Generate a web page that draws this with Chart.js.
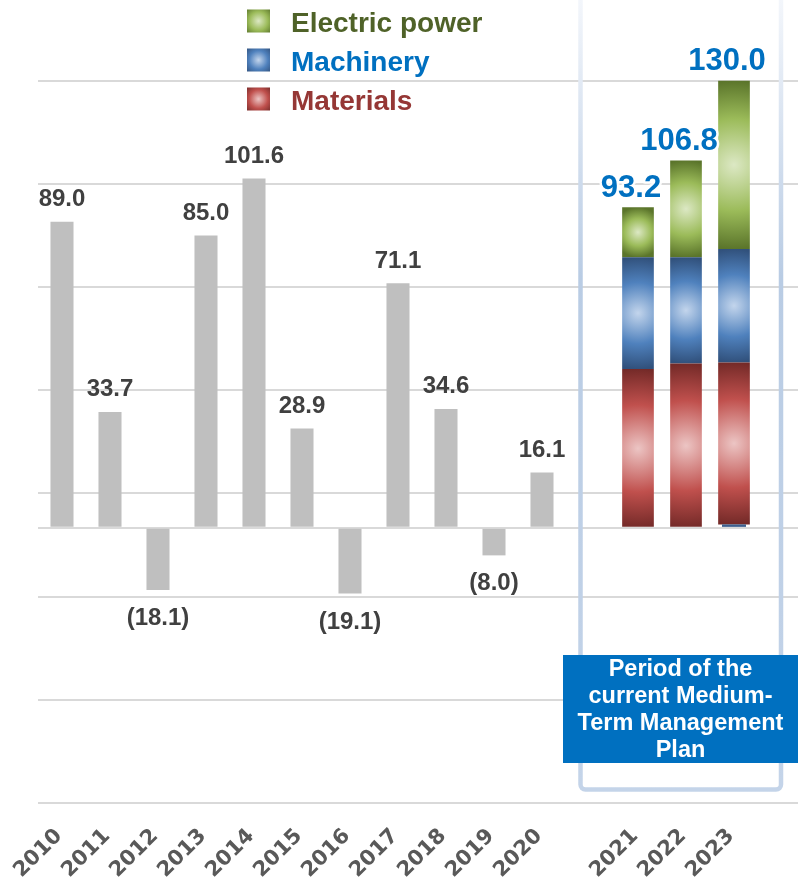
<!DOCTYPE html>
<html>
<head>
<meta charset="utf-8">
<title>Profit by segment</title>
<script src="https://cdn.jsdelivr.net/npm/chart.js@4.4.1/dist/chart.umd.min.js"></script>
<style>
  html, body { margin: 0; padding: 0; background: #ffffff; }
  #wrap { width: 798px; height: 888px; position: relative; }
</style>
</head>
<body>
<div id="wrap"><canvas id="chart" width="798" height="888"></canvas></div>
<script>
// ---- data ----
const pastYears = ['2010', '2011', '2012', '2013', '2014', '2015', '2016', '2017', '2018', '2019', '2020'];
const pastProfit = [89.0, 33.7, -18.1, 85.0, 101.6, 28.9, -19.1, 71.1, 34.6, -8.0, 16.1];
const planYears = ['2021', '2022', '2023'];
const otherSegment = [0, 0, 1.0];
const materials = [46.2, 47.8, 47.1];
const machinery = [32.5, 30.9, 33.0];
const electricPower = [14.5, 28.1, 48.9];
const gridTicks = [-80, -50, -20, 0, 10, 40, 70, 100, 130];
const legendLabels = ['Electric power', 'Machinery', 'Materials'];
const planNote = ['Period of the', 'current Medium-', 'Term Management', 'Plan'];

// ---- category layout: past years, a spacer, then the plan years ----
const categories = [...pastYears, '', ...planYears];
const planStart = pastYears.length + 1;
const pastData = categories.map((_, i) => i < pastYears.length ? pastProfit[i] : null);
const toPlan = arr => categories.map((_, i) => i >= planStart ? arr[i - planStart] : null);

const SANS = '"Liberation Sans", Arial, sans-serif';

// segment palettes: [centre highlight, body, edge shade]
const PAL = {
  green: ['#dce8c4', '#9bbb59', '#5b752b'],
  blue:  ['#c3d5ec', '#4f81bd', '#31517c'],
  red:   ['#ecc5c4', '#c0504d', '#742a28']
};

function radial(c2d, cx, cy, r, pal) {
  const g = c2d.createRadialGradient(cx, cy, 0, cx, cy, Math.max(r, 1));
  g.addColorStop(0, pal[0]);
  g.addColorStop(0.55, pal[1]);
  g.addColorStop(1, pal[2]);
  return g;
}

// radial shading centred on each stacked segment, located through the scales
function segmentFill(pal) {
  return (c) => {
    const chart = c.chart;
    const xs = chart.scales.x, ys = chart.scales.y;
    if (!xs || !ys || c.raw == null || !chart.chartArea) return pal[1];
    const i = c.dataIndex;
    let base = 0;
    for (let d = 1; d < c.datasetIndex; d++) base += chart.data.datasets[d].data[i] || 0;
    const y0 = ys.getPixelForValue(base);
    const y1 = ys.getPixelForValue(base + c.raw);
    const cx = xs.getPixelForValue(i);
    return radial(chart.ctx, cx, (y0 + y1) / 2, Math.abs(y0 - y1) / 2, pal);
  };
}

function alignPx(v, w) { return Math.round(v - w / 2) + w / 2; }

// grid lines continue to the right edge of the canvas; plan-period frame
const backdrop = {
  id: 'backdrop',
  beforeDatasetsDraw(chart) {
    const { ctx, chartArea, scales } = chart;
    ctx.save();
    ctx.strokeStyle = '#d9d9d9';
    ctx.lineWidth = 2;
    gridTicks.forEach(v => {
      const y = alignPx(scales.y.getPixelForValue(v), 2);
      ctx.beginPath();
      ctx.moveTo(chartArea.right, y);
      ctx.lineTo(chart.width, y);
      ctx.stroke();
    });
    // frame around the plan years
    const g = ctx.createLinearGradient(0, 0, 0, 790);
    g.addColorStop(0, '#f3f6fb');
    g.addColorStop(0.35, '#b9cce4');
    g.addColorStop(1, '#c4d4e9');
    ctx.strokeStyle = g;
    ctx.lineWidth = 4.5;
    ctx.beginPath();
    ctx.roundRect(580.5, -10, 200.5, 799.5, 5);
    ctx.stroke();
    ctx.restore();
  }
};

const valueLabels = {
  id: 'valueLabels',
  afterDatasetsDraw(chart) {
    const { ctx } = chart;
    ctx.save();
    // past-year values
    ctx.font = 'bold 24px ' + SANS;
    ctx.fillStyle = '#404040';
    ctx.textAlign = 'center';
    ctx.textBaseline = 'alphabetic';
    chart.getDatasetMeta(0).data.forEach((bar, i) => {
      const v = pastData[i];
      if (v == null) return;
      if (v >= 0) {
        ctx.fillText(v.toFixed(1), bar.x, bar.y - 15.5);
      } else {
        ctx.fillText('(' + Math.abs(v).toFixed(1) + ')', bar.x, bar.y + 35);
      }
    });
    // plan totals above the stacks
    const topMeta = chart.getDatasetMeta(chart.data.datasets.length - 1);
    ctx.font = 'bold 31px ' + SANS;
    ctx.lineJoin = 'round';
    planYears.forEach((_, k) => {
      const i = planStart + k;
      const total = otherSegment[k] + materials[k] + machinery[k] + electricPower[k];
      const bar = topMeta.data[i];
      const txt = total.toFixed(1);
      const x = bar.x - 7, y = bar.y - 10.5;
      ctx.strokeStyle = 'rgba(255,255,255,0.9)';
      ctx.lineWidth = 5;
      ctx.strokeText(txt, x, y);
      ctx.fillStyle = '#0070c0';
      ctx.fillText(txt, x, y);
    });
    ctx.restore();
  }
};

const overlay = {
  id: 'overlay',
  afterDraw(chart) {
    const { ctx } = chart;
    ctx.save();
    // legend
    const swatches = [PAL.green, PAL.blue, PAL.red];
    const colors = ['#4f6228', '#0070c0', '#953735'];
    ctx.font = 'bold 28px ' + SANS;
    ctx.textAlign = 'left';
    ctx.textBaseline = 'alphabetic';
    legendLabels.forEach((label, k) => {
      const cy = 21 + k * 39;
      ctx.fillStyle = radial(ctx, 258.5, cy, 17, swatches[k]);
      ctx.fillRect(247, cy - 11.5, 23, 23);
      ctx.fillStyle = colors[k];
      ctx.fillText(label, 291, cy + 10.5);
    });
    // plan-period note
    ctx.fillStyle = '#0070c0';
    ctx.fillRect(563, 655, 240, 108);
    ctx.fillStyle = '#ffffff';
    ctx.font = 'bold 23.5px ' + SANS;
    ctx.textAlign = 'center';
    planNote.forEach((line, k) => {
      ctx.fillText(line, 680.5, 676 + k * 27);
    });
    ctx.restore();
  }
};

new Chart(document.getElementById('chart'), {
  type: 'bar',
  data: {
    labels: categories,
    datasets: [
      { label: 'Results', data: pastData, backgroundColor: '#bfbfbf',
        barPercentage: 0.48, categoryPercentage: 1 },
      { label: 'Other', data: toPlan(otherSegment), backgroundColor: '#3d5f8e',
        barPercentage: 0.5, categoryPercentage: 1 },
      { label: 'Materials', data: toPlan(materials), backgroundColor: segmentFill(PAL.red),
        barPercentage: 0.66, categoryPercentage: 1 },
      { label: 'Machinery', data: toPlan(machinery), backgroundColor: segmentFill(PAL.blue),
        barPercentage: 0.66, categoryPercentage: 1 },
      { label: 'Electric power', data: toPlan(electricPower), backgroundColor: segmentFill(PAL.green),
        barPercentage: 0.66, categoryPercentage: 1 }
    ]
  },
  options: {
    responsive: false,
    devicePixelRatio: 1,
    animation: false,
    events: [],
    layout: { padding: { left: 38, right: 40, top: 12, bottom: 0 } },
    plugins: { legend: { display: false }, tooltip: { enabled: false } },
    scales: {
      x: {
        stacked: true,
        grid: { display: false, drawTicks: false },
        border: { display: false },
        ticks: {
          autoSkip: false, minRotation: 45, maxRotation: 45,
          padding: 21, labelOffset: -3,
          color: '#595959',
          font: { family: '"DejaVu Sans", Verdana, sans-serif', weight: 'bold', size: 21 }
        },
        afterFit: s => { s.height = 85; s.paddingLeft = 0; s.paddingRight = 0; }
      },
      y: {
        stacked: true,
        min: -80, max: 150,
        afterBuildTicks: s => { s.ticks = gridTicks.map(v => ({ value: v })); },
        grid: { color: '#d9d9d9', lineWidth: 2, drawTicks: false },
        border: { display: false },
        ticks: { display: false }
      }
    }
  },
  plugins: [backdrop, valueLabels, overlay]
});
</script>
</body>
</html>
